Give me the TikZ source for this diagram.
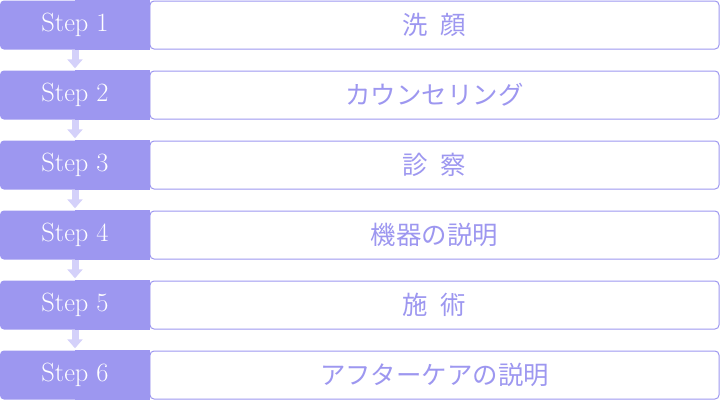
\documentclass[tikz,border=0pt]{standalone}
\usepackage{fontspec}
\newfontfamily\jpfont{Noto Sans CJK JP}
\usepackage{tikz}
\usetikzlibrary{arrows.meta,backgrounds}

\definecolor{stepcol}{RGB}{157,151,240}
\definecolor{arrowcol}{RGB}{212,209,250}

\begin{document}
\begin{tikzpicture}[x=1bp,y=-1bp]
            \tikzset{
                stepbox/.style={rectangle, fill=stepcol, rounded corners=4bp, minimum width=150bp,
                    minimum height=49bp, inner sep=0pt, text=white, font=\fontsize{26.5}{28}\selectfont},
                taskbox/.style={rectangle, draw=stepcol, line width=1bp, rounded corners=4bp, fill=white,
                    minimum width=569bp, minimum height=48bp, inner sep=0pt, text=stepcol,
                    font=\jpfont\fontsize{25.5}{28}\selectfont},
                flow/.style={draw=arrowcol, line width=7bp, -{Triangle[width=15bp,length=9bp]}, shorten >=2bp}
            }
            \useasboundingbox (0,0) rectangle (720,400);
            % task boxes
            \node[taskbox] (task1) at (434.5,25) {洗\hspace{0.5em}顔};
            \node[taskbox] (task2) at (434.5,95) {カウンセリング};
            \node[taskbox] (task3) at (434.5,165) {診\hspace{0.5em}察};
            \node[taskbox] (task4) at (434.5,235) {機器の説明};
            \node[taskbox] (task5) at (434.5,305) {施\hspace{0.5em}術};
            \node[taskbox] (task6) at (434.5,375) {アフターケアの説明};

            % step labels
            \node[stepbox] (step1) at (75,25) {Step 1};
            \node[stepbox] (step2) at (75,95) {Step 2};
            \node[stepbox] (step3) at (75,165) {Step 3};
            \node[stepbox] (step4) at (75,235) {Step 4};
            \node[stepbox] (step5) at (75,305) {Step 5};
            \node[stepbox] (step6) at (75,375) {Step 6};
            % square off the right side of the labels
            \begin{pgfonlayer}{background}
                \foreach \i in {1,...,6}
                    \fill[stepcol] (step\i.north) rectangle (step\i.south east);
            \end{pgfonlayer}

            % arrows
            \draw[flow] (step1) -- (step2);
            \draw[flow] (step2) -- (step3);
            \draw[flow] (step3) -- (step4);
            \draw[flow] (step4) -- (step5);
            \draw[flow] (step5) -- (step6);
\end{tikzpicture}
\end{document}
